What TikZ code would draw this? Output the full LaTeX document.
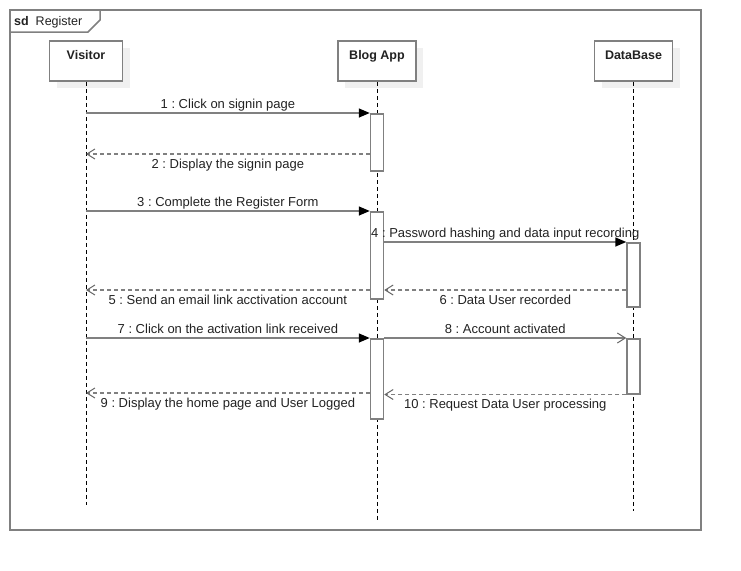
\documentclass[tikz,border=0pt]{standalone}
\usepackage{fontspec}
\setmainfont{Liberation Sans}
\usetikzlibrary{arrows.meta}
\definecolor{gc}{HTML}{808080}
\definecolor{shc}{HTML}{F0F0F0}
\definecolor{tc}{HTML}{222222}
\frenchspacing
\begin{document}
\begin{tikzpicture}[x=1pt,y=-1pt,
  frameline/.style={draw=gc, line width=1.5pt},
  head/.style={draw=gc, line width=1.6pt, fill=white, minimum height=40pt,
    inner sep=0pt, text height=9pt, text depth=12pt, font=\bfseries\fontsize{12.5}{14}\selectfont, text=tc,
    preaction={fill=shc, transform canvas={shift={(7pt,-7pt)}}}},
  actbar/.style={draw=gc, line width=1.5pt, fill=white, minimum width=13pt, inner sep=0pt, anchor=north},
  life/.style={draw=black, line width=0.8pt, dash pattern=on 4pt off 3pt},
  callmsg/.style={draw=gc, line width=1.5pt, -{Triangle[length=11pt,width=9pt,fill=black,color=black]}},
  asyncmsg/.style={draw=gc, line width=1.5pt, -{Straight Barb[length=8pt,width=10pt,line width=1pt,color=gc!80!black]}},
  retmsg/.style={draw=gc, line width=1.5pt, dash pattern=on 4pt off 3pt, -{Straight Barb[length=8pt,width=10pt,line width=1pt,color=gc!80!black]}},
  lab/.style={font=\fontsize{13}{15}\selectfont, text=tc, inner sep=0pt, anchor=base},
  above lab/.style={lab, yshift=5pt},
  below lab/.style={lab, yshift=-14pt}]
\useasboundingbox (0,0) rectangle (741,570);

% frame
\draw[frameline] (10,10) rectangle (701,530);
\draw[frameline, fill=white] (10,10) -- (100,10) -- (100,20) -- (88,32) -- (10,32) -- cycle;
\node[font=\fontsize{12.5}{14}\selectfont, text=tc, anchor=base west, inner sep=0pt] (title) at (14,25.5) {\textbf{sd}\ \ Register};

% heads
\node[head, minimum width=73pt] (vis) at (86,61) {Visitor};
\node[head, minimum width=78pt] (app) at (377,61) {Blog App};
\node[head, minimum width=78pt] (db) at (633.5,61) {DataBase};

% lifelines
\coordinate (visEnd) at (86,505);
\coordinate (appEnd) at (377,522);
\coordinate (dbEnd) at (633.5,511);
\draw[life] (vis.south) -- (visEnd);
\draw[life] (app.south) -- (appEnd);
\draw[life] (db.south) -- (dbEnd);

% activations
\node[actbar, minimum height=57pt] (a1) at (377,113) {};
\node[actbar, minimum height=87pt] (a2) at (377,211) {};
\node[actbar, minimum height=80pt] (a3) at (377,338) {};
\node[actbar, minimum height=64pt] (d1) at (633.5,242) {};
\node[actbar, minimum height=55pt] (d2) at (633.5,338) {};

% visitor-side points
\coordinate (v1) at (86,113);
\coordinate (v2) at (86,154);
\coordinate (v3) at (86,211);
\coordinate (v5) at (86,290);
\coordinate (v7) at (86,338);
\coordinate (v9) at (86,393);

% messages
\draw[callmsg] (v1) -- (a1.west |- v1) node[above lab, pos=.5] {1 : Click on signin page};
\draw[retmsg] (a1.west |- v2) -- (v2) node[below lab, pos=.5] {2 : Display the signin page};
\draw[callmsg] (v3) -- (a2.west |- v3) node[above lab, pos=.5] {3 : Complete the Register Form};
\draw[callmsg] (a2.east |- d1.north) -- (d1.north west) node[above lab, pos=.5] {4 : Password hashing and data input recording};
\draw[retmsg] (a2.west |- v5) -- (v5) node[below lab, pos=.5] {5 : Send an email link acctivation account};
\draw[retmsg] (d1.west |- v5) -- (a2.east |- v5) node[below lab, pos=.5] {6 : Data User recorded};
\draw[callmsg] (v7) -- (a3.north west) node[above lab, pos=.5] {7 : Click on the activation link received};
\draw[asyncmsg] (a3.north east) -- (d2.north west) node[above lab, pos=.5] {8 : Account activated};
\draw[retmsg] (a3.west |- v9) -- (v9) node[below lab, pos=.5] {9 : Display the home page and User Logged};
\draw[retmsg] (d2.south west) -- (a3.east |- d2.south) node[below lab, pos=.5] {10 : Request Data User processing};

\end{tikzpicture}
\end{document}
